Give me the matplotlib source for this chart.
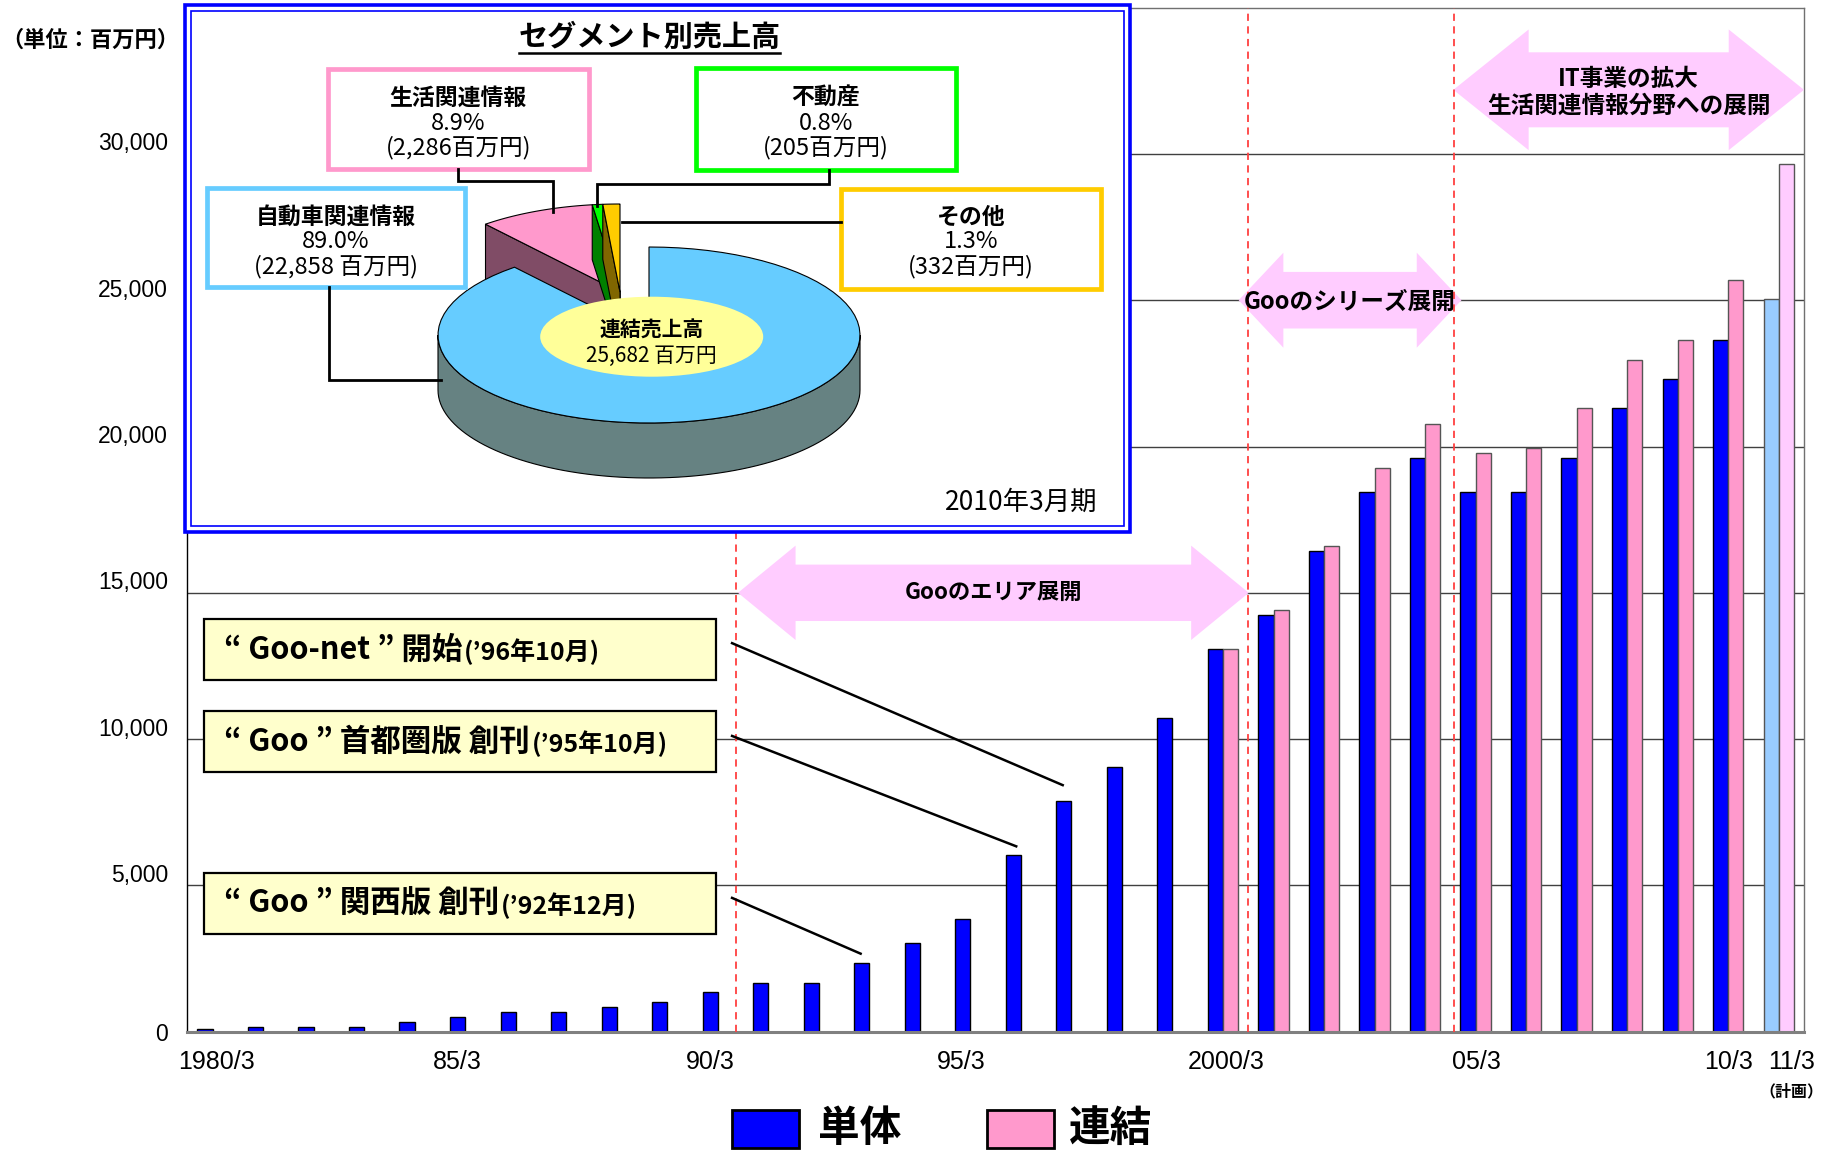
import numpy as np
import matplotlib
matplotlib.use('Agg')
import matplotlib.pyplot as plt
from matplotlib.patches import Polygon, Rectangle, Ellipse
from matplotlib.transforms import ScaledTranslation

# ---------------- data ----------------
years = ['1980/3', '81/3', '82/3', '83/3', '84/3', '85/3', '86/3', '87/3', '88/3', '89/3',
         '90/3', '91/3', '92/3', '93/3', '94/3', '95/3', '96/3', '97/3', '98/3', '99/3',
         '2000/3', '01/3', '02/3', '03/3', '04/3', '05/3', '06/3', '07/3', '08/3', '09/3',
         '10/3', '11/3']
shown_ticks = ['1980/3', '85/3', '90/3', '95/3', '2000/3', '05/3', '10/3', '11/3']
tantai = [80, 170, 170, 170, 340, 510, 680, 680, 850, 1010,
          1350, 1660, 1660, 2350, 3020, 3850, 6030, 7880, 9050, 10720,
          13080, 14250, 16420, 18450, 19600, 18450, 18460, 19600, 21310, 22300,
          23630, 25050]
renketsu = [None] * 20 + [13080, 14400, 16590, 19280, 20780, 19790, 19950, 21310,
                          22970, 23630, 25680, 29670]
plan = [False] * 31 + [True]
yticks = [0, 5000, 10000, 15000, 20000, 25000, 30000]

seg_names = ['自動車関連情報', '生活関連情報', '不動産', 'その他']
seg_share = [89.0, 8.9, 0.8, 1.3]
seg_value = [22858, 2286, 205, 332]
seg_total = 25682

# ---------------- fonts ----------------
NARROW = ['Noto Sans CJK JP', 'DejaVu Sans']
CJK = ['Noto Sans CJK JP', 'DejaVu Sans']
REG = ['Liberation Sans', 'Noto Sans CJK JP', 'DejaVu Sans']
plt.rcParams['font.family'] = NARROW

W, H, DPI = 1832, 1150, 100
fig = plt.figure(figsize=(W / DPI, H / DPI), dpi=DPI)
fig.patch.set_facecolor('white')

# ---------------- main bar axes ----------------
x0p, x1p, y0p, y1p = 187.3, 1804.0, 1031.7, 7.6
ax = fig.add_axes([x0p / W, 1 - y0p / H, (x1p - x0p) / W, (y0p - y1p) / H])
n = len(years)
x = np.arange(n)
bw, off = 0.30, 0.15
ax.set_xlim(-0.5, n - 0.5)
ax.set_ylim(0, 35000)
ax.set_axisbelow(True)
ax.yaxis.grid(True, color='#404040', linewidth=1.0)

c_t = ['#99CCFF' if p else '#0000FF' for p in plan]
e_t = ['#555555' if p else '#000000' for p in plan]
ax.bar(x - off, tantai, width=bw, color=c_t, edgecolor=e_t, linewidth=1.0, zorder=2)
idx = [i for i, v in enumerate(renketsu) if v is not None]
ax.bar(x[idx] + off, [renketsu[i] for i in idx], width=bw,
       color=['#FFCCFF' if plan[i] else '#FF99CC' for i in idx],
       edgecolor='#555555', linewidth=1.0, zorder=2)

# ticks
ax.set_yticks(yticks)
ax.set_yticklabels([f'{v:,}' for v in yticks], fontsize=16.5, family=REG)
tick_idx = [years.index(t) for t in shown_ticks]
ax.set_xticks(tick_idx)
ax.set_xticklabels(shown_ticks, fontsize=18, family=REG)
ax.tick_params(axis='both', length=0)
ax.tick_params(axis='y', pad=14)
ax.tick_params(axis='x', pad=13)
for lbl, v in zip(ax.get_yticklabels(), yticks):
    if v != 0:
        lbl.set_transform(lbl.get_transform() + ScaledTranslation(0, 0.125, fig.dpi_scale_trans))
x_label_shift = [4, -7.6, -7, -8.8, 3.2, 1.2, 0, 13]  # pixels
for lbl, dx in zip(ax.get_xticklabels(), x_label_shift):
    lbl.set_transform(lbl.get_transform() + ScaledTranslation(dx / DPI, 0, fig.dpi_scale_trans))

for s in ['top', 'right']:
    ax.spines[s].set_color('#707070')
    ax.spines[s].set_linewidth(1.0)
ax.spines['left'].set_color('black')
ax.spines['left'].set_linewidth(1.0)
ax.spines['bottom'].set_color('#808080')
ax.spines['bottom'].set_linewidth(2.2)

# double arrows (pink)
def double_arrow(xa, xb, yc, hl, hh, sh):
    pts = [(xa, yc), (xa + hl, yc + hh), (xa + hl, yc + sh), (xb - hl, yc + sh),
           (xb - hl, yc + hh), (xb, yc), (xb - hl, yc - hh), (xb - hl, yc - sh),
           (xa + hl, yc - sh), (xa + hl, yc - hh)]
    ax.add_patch(Polygon(pts, closed=True, facecolor='#FFCCFF', edgecolor='none',
                         zorder=3, clip_on=False))

double_arrow(10.40, 20.51, 15000, 1.14, 1613, 964)
ax.text(15.455, 15000, 'Gooのエリア展開', ha='center', va='center', fontsize=16,
        fontweight='bold', zorder=6)
double_arrow(20.31, 24.72, 25000, 0.885, 1624, 967)
ax.text(22.515, 24950, 'Gooのシリーズ展開', ha='center', va='center', fontsize=17,
        fontweight='bold', zorder=6)
double_arrow(24.56, 31.5, 32190, 1.49, 2063, 1282)
ax.text(28.03, 32100, 'IT事業の拡大\n生活関連情報分野への展開', ha='center', va='center',
        fontsize=17, fontweight='bold', linespacing=1.15, zorder=6)

# red dashed separators
for xv in [10.36, 20.49, 24.57]:
    ax.axvline(xv, color='#FF4040', linewidth=1.3, linestyle=(0, (4, 3)), zorder=4)

# leader lines from annotation boxes to bars
leaders = [((10.26, 13296), (17 - off, tantai[17] + 530)),
           ((10.26, 10123), (16 - off + 0.08, tantai[16] + 290)),
           ((10.26, 4590), (13 - off, tantai[13] + 300))]
for (xa, ya), (xb, yb) in leaders:
    ax.plot([xa, xb], [ya, yb], color='black', linewidth=1.8, zorder=5,
            solid_capstyle='butt', clip_on=False)

# ---------------- overlay (pixel coordinates) ----------------
ov = fig.add_axes([0, 0, 1, 1], zorder=10)
ov.set_xlim(0, W)
ov.set_ylim(H, 0)
ov.axis('off')

ov.text(90, 40, '（単位：百万円）', ha='center', va='center', fontsize=16,
        fontweight='bold', family=CJK)
ov.text(1791, 1091, '（計画）', ha='center', va='center', fontsize=11.5,
        fontweight='bold', family=CJK)

# annotation boxes
notes = [("“ Goo-net ” 開始", "(’96年10月)", 619.0),
         ("“ Goo ” 首都圏版 創刊", "(’95年10月)", 711.3),
         ("“ Goo ” 関西版 創刊", "(’92年12月)", 873.3)]
for big, small, ytop in notes:
    ov.add_patch(Rectangle((203.6, ytop), 512.2, 61, facecolor='#FFFFCC',
                           edgecolor='black', linewidth=1.6))
    t1 = ov.text(224.5, ytop + 31, big, ha='left', va='center', fontsize=22,
                 fontweight='bold')
    ov.annotate(small, xy=(1, 0), xycoords=t1, xytext=(1, 1), textcoords='offset points',
                ha='left', va='bottom', fontsize=18, fontweight='bold')

# inset frame
ov.add_patch(Rectangle((185, 5), 945, 527, facecolor='white', edgecolor='#0000FF',
                       linewidth=2.6))
ov.add_patch(Rectangle((191, 11), 933, 515, facecolor='none', edgecolor='#0000FF',
                       linewidth=1.2))
ov.text(649.5, 37, 'セグメント別売上高', ha='center', va='center', fontsize=21,
        fontweight='bold', family=CJK)
ov.plot([519, 780], [52.5, 52.5], color='black', linewidth=1.8)
ov.text(1021, 502, '2010年3月期', ha='center', va='center', fontsize=19)

# 3D pie
A, B, D = 211.0, 88.0, 55.0
C_main = (649.0, 335.0)
C_small = (620.0, 292.0)
top_cols = ['#66CCFF', '#FF99CC', '#00FF00', '#FFCC00']
side_cols = ['#668282', '#804C66', '#008000', '#806600']

def arcpts(c, t1, t2, num=80):
    t = np.radians(np.linspace(t1, t2, num))
    return np.column_stack([c[0] + A * np.cos(t), c[1] - B * np.sin(t)])

angles = []
start = 90.0
for s in seg_share:
    end = start - 360.0 * s / sum(seg_share)
    angles.append((end, start))  # ccw from end to start
    start = end

def draw_slice(k, c):
    t1, t2 = angles[k]
    for t, vis in [(t2, np.cos(np.radians(t2)) < 0), (t1, np.cos(np.radians(t1)) > 0)]:
        if vis:
            p = (c[0] + A * np.cos(np.radians(t)), c[1] - B * np.sin(np.radians(t)))
            ov.add_patch(Polygon([c, p, (p[0], p[1] + D), (c[0], c[1] + D)], closed=True,
                                 facecolor=side_cols[k], edgecolor='black', linewidth=0.8))
    lo, hi = max(t1, -180.0), min(t2, 0.0)
    if hi > lo:
        a1 = arcpts(c, lo, hi)
        a2 = arcpts(c, hi, lo) + np.array([0, D])
        ov.add_patch(Polygon(np.vstack([a1, a2]), closed=True, facecolor=side_cols[k],
                             edgecolor='black', linewidth=0.8))
    top = np.vstack([[c], arcpts(c, t1, t2)])
    ov.add_patch(Polygon(top, closed=True, facecolor=top_cols[k], edgecolor='black',
                         linewidth=0.8))

for k in [1, 2, 3]:
    draw_slice(k, C_small)
draw_slice(0, C_main)

ov.add_patch(Ellipse((651.7, 336.7), 223, 80, facecolor='#FFFF99', edgecolor='none'))
ov.text(651.7, 330, '連結売上高', ha='center', va='center', fontsize=15,
        fontweight='bold', family=CJK)
ov.text(651.7, 356, f'{seg_total:,} 百万円', ha='center', va='center', fontsize=15)

# segment label boxes
boxes = [
    (0, 206.7, 188.0, 258.3, 99.0, '#66CCFF', 217.0),
    (1, 328.0, 69.0, 260.6, 100.0, '#FF99CC', 98.0),
    (2, 695.6, 68.0, 260.4, 102.0, '#00FF00', 98.0),
    (3, 840.6, 188.6, 260.4, 100.4, '#FFCC00', 217.0),
]
for k, bx, by, bwid, bht, ec, ty in boxes:
    ov.add_patch(Rectangle((bx, by), bwid, bht, facecolor='white', edgecolor=ec,
                           linewidth=3.4))
    cx = bx + bwid / 2
    ov.text(cx, ty, seg_names[k], ha='center', va='center', fontsize=16.5,
            fontweight='bold', family=CJK)
    ov.text(cx, ty + 25, f'{seg_share[k]:.1f}%', ha='center', va='center', fontsize=17)
    sep = ' ' if k == 0 else ''
    ov.text(cx, ty + 50, f'({seg_value[k]:,}{sep}百万円)', ha='center', va='center',
            fontsize=17)

# leader lines inside inset
lk = dict(color='black', linewidth=2.0, solid_joinstyle='miter')
ov.plot([329.4, 329.4, 440.6], [287, 380, 380], **lk)
ov.plot([457.7, 457.7, 553, 553], [169, 181, 181, 212], **lk)
ov.plot([829, 829, 597, 597], [170, 184, 184, 206], **lk)
ov.plot([840.6, 622], [222.3, 222.3], **lk)

# legend
ov.add_patch(Rectangle((732.4, 1109.6), 66.6, 38.4, facecolor='#0000FF',
                       edgecolor='black', linewidth=2.0))
ov.text(817.6, 1129, '単体', ha='left', va='center', fontsize=30, fontweight='bold',
        family=CJK)
ov.add_patch(Rectangle((987.0, 1109.6), 66.5, 38.4, facecolor='#FF99CC',
                       edgecolor='black', linewidth=2.0))
ov.text(1068.7, 1129, '連結', ha='left', va='center', fontsize=30, fontweight='bold',
        family=CJK)

fig.savefig('out.png', dpi=DPI, facecolor='white')
